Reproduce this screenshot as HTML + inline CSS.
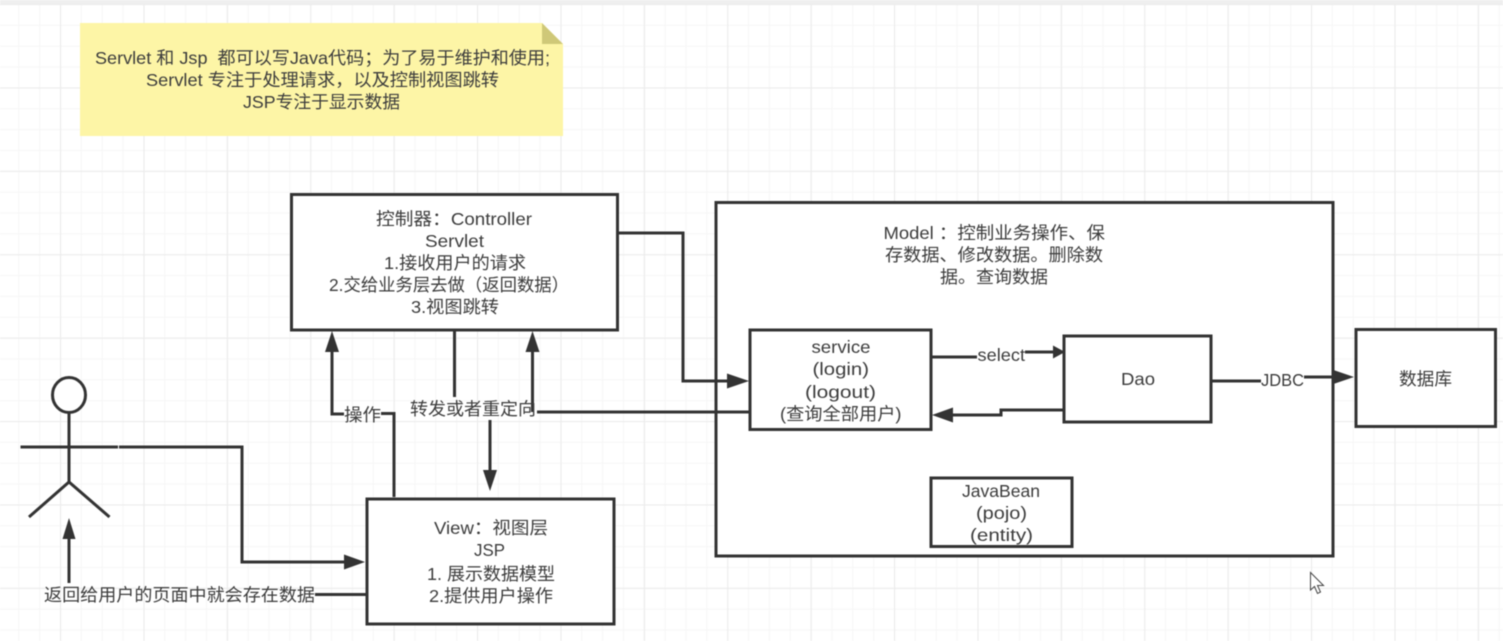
<!DOCTYPE html>
<html>
<head>
<meta charset="utf-8">
<style>
html,body{margin:0;padding:0;background:#fff;width:1503px;height:641px;overflow:hidden}
svg{display:block;filter:blur(0.55px)}
text{font-family:"Liberation Sans","Noto Sans CJK SC",sans-serif;font-size:17.5px;fill:#3c3c3c;dominant-baseline:central;text-anchor:start;white-space:pre}
.b{fill:#fff;stroke:#333;stroke-width:3}
.l{fill:none;stroke:#333;stroke-width:3}
.a{fill:#333;stroke:none}
</style>
</head>
<body>
<svg xmlns="http://www.w3.org/2000/svg" width="1503" height="641" viewBox="0 0 1503 641">
<defs>
<pattern id="minor" x="18.3" y="4" width="20.85" height="20.85" patternUnits="userSpaceOnUse">
<path d="M0.5 0V20.85M0 0.5H20.85" fill="none" stroke="#f6f6f6" stroke-width="1"/>
</pattern>
<pattern id="major" x="60" y="4" width="83.4" height="83.4" patternUnits="userSpaceOnUse">
<path d="M0.5 0V83.4M0 0.5H83.4" fill="none" stroke="#ececec" stroke-width="1.3"/>
</pattern>
</defs>
<rect width="1503" height="641" fill="#fff"/>
<rect width="1503" height="641" fill="url(#minor)"/>
<rect width="1503" height="641" fill="url(#major)"/>
<rect width="1503" height="4" fill="#efefef"/>

<!-- note -->
<path d="M80 23H542L563 44V136H80Z" fill="#fdf5a6"/>
<path d="M542 23L563 44H542Z" fill="#cfc878"/>
<text x="95" y="58" textLength="455" lengthAdjust="spacingAndGlyphs">Servlet 和 Jsp  都可以写Java代码；为了易于维护和使用;</text>
<text x="146" y="80" textLength="353" lengthAdjust="spacingAndGlyphs">Servlet 专注于处理请求，以及控制视图跳转</text>
<text x="243" y="102" textLength="157" lengthAdjust="spacingAndGlyphs">JSP专注于显示数据</text>

<!-- boxes -->
<rect class="b" x="291.5" y="194.5" width="326" height="135.5"/>
<rect class="b" x="716" y="202.5" width="617" height="353.5"/>
<rect class="b" x="367" y="499" width="247" height="125"/>
<rect class="b" x="750" y="330" width="181" height="99.5"/>
<rect class="b" x="1064" y="336" width="147" height="86"/>
<rect class="b" x="1356" y="329.5" width="139.5" height="97"/>
<rect class="b" x="931" y="478" width="141" height="68.5"/>

<!-- controller text -->
<text x="376" y="219" textLength="156" lengthAdjust="spacingAndGlyphs">控制器：Controller</text>
<text x="425" y="241" textLength="59" lengthAdjust="spacingAndGlyphs">Servlet</text>
<text x="384" y="263" textLength="142" lengthAdjust="spacingAndGlyphs">1.接收用户的请求</text>
<text x="329" y="285" textLength="240" lengthAdjust="spacingAndGlyphs">2.交给业务层去做（返回数据）</text>
<text x="411" y="307" textLength="88" lengthAdjust="spacingAndGlyphs">3.视图跳转</text>

<!-- view text -->
<text x="434" y="528" textLength="114" lengthAdjust="spacingAndGlyphs">View：视图层</text>
<text x="474" y="550" textLength="31" lengthAdjust="spacingAndGlyphs">JSP</text>
<text x="427" y="574" textLength="128" lengthAdjust="spacingAndGlyphs">1. 展示数据模型</text>
<text x="429" y="596" textLength="124" lengthAdjust="spacingAndGlyphs">2.提供用户操作</text>

<!-- model text -->
<text x="883.5" y="233" textLength="221.5" lengthAdjust="spacingAndGlyphs">Model ：控制业务操作、保</text>
<text x="885" y="255" textLength="218" lengthAdjust="spacingAndGlyphs">存数据、修改数据。删除数</text>
<text x="940" y="277" textLength="108" lengthAdjust="spacingAndGlyphs">据。查询数据</text>

<!-- service text -->
<text x="811.5" y="347" textLength="59" lengthAdjust="spacingAndGlyphs">service</text>
<text x="812.5" y="369" textLength="56.5" lengthAdjust="spacingAndGlyphs">(login)</text>
<text x="805" y="392" textLength="71" lengthAdjust="spacingAndGlyphs">(logout)</text>
<text x="780" y="414" textLength="121.5" lengthAdjust="spacingAndGlyphs">(查询全部用户)</text>

<text x="1121" y="379" textLength="34" lengthAdjust="spacingAndGlyphs">Dao</text>
<text x="1399" y="379" textLength="53" lengthAdjust="spacingAndGlyphs">数据库</text>

<text x="962" y="491" textLength="78" lengthAdjust="spacingAndGlyphs">JavaBean</text>
<text x="976" y="513" textLength="51" lengthAdjust="spacingAndGlyphs">(pojo)</text>
<text x="970" y="535" textLength="63" lengthAdjust="spacingAndGlyphs">(entity)</text>

<!-- connectors -->
<path class="l" d="M618 233H683V381H730"/>
<path class="a" d="M749 381L727 373.5V388.5Z"/>

<path class="l" d="M931 357H977M1025 352H1055"/>
<path class="a" d="M1065 352L1053 345.5V358.5Z"/>
<text x="977.5" y="355" textLength="47.5" lengthAdjust="spacingAndGlyphs">select</text>

<path class="l" d="M1064 410H1001V415H950"/>
<path class="a" d="M932 415L953 407.5V422.5Z"/>

<path class="l" d="M1211 381H1261M1304 377H1335"/>
<path class="a" d="M1354 377L1332 369.5V384.5Z"/>
<text x="1261" y="380" textLength="43" lengthAdjust="spacingAndGlyphs">JDBC</text>

<path class="l" d="M750 412H537M532.5 412V350"/>
<path class="a" d="M532.5 331L525.5 352H539.5Z"/>

<path class="l" d="M454.5 330V397"/>
<text x="410" y="409" textLength="126" lengthAdjust="spacingAndGlyphs">转发或者重定向</text>
<path class="l" d="M490 420V472"/>
<path class="a" d="M490 491L483 470H497Z"/>

<path class="l" d="M394 497V413.5H381M344 414H332V350"/>
<path class="a" d="M332 331L325 352H339Z"/>
<text x="344" y="415" textLength="37" lengthAdjust="spacingAndGlyphs">操作</text>

<path class="l" d="M119 447H242V562H347"/>
<path class="a" d="M365 562L344 554.5V569.5Z"/>

<!-- actor -->
<ellipse class="b" cx="69" cy="395" rx="16.5" ry="17.5"/>
<path class="l" d="M69 412.5V482M20.5 447H118M29 517L69 482L109.5 517"/>

<path class="l" d="M69 583V537"/>
<path class="a" d="M69 518L62.5 539H75.5Z"/>
<path class="l" d="M315 594.5H367"/>
<text x="44" y="595" textLength="271" lengthAdjust="spacingAndGlyphs">返回给用户的页面中就会存在数据</text>

<!-- cursor -->
<path d="M1310.5 572.5V590L1314.5 586.5L1317.5 593.5L1320.5 592L1317.5 585.5H1323.5Z" fill="#fff" stroke="#444" stroke-width="1"/>
</svg>
</body>
</html>
